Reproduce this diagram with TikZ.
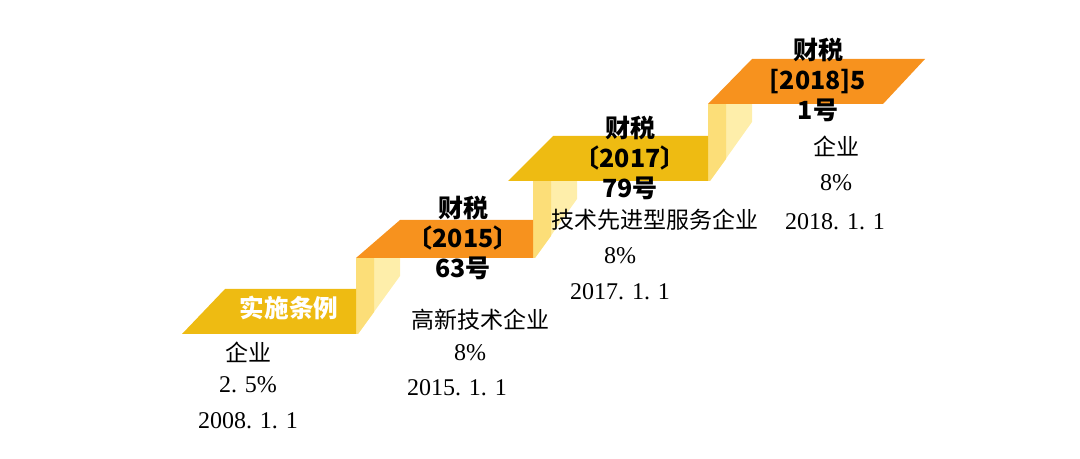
\documentclass[tikz,border=0pt]{standalone}
\usepackage{fontspec}
\setmainfont{Liberation Serif}
\newfontfamily\cjk{Noto Sans CJK SC}
\usetikzlibrary{positioning}

\definecolor{stepyellow}{RGB}{238,187,18}
\definecolor{steporange}{RGB}{247,146,30}
\definecolor{riserpale}{RGB}{252,222,120}
\definecolor{riserlight}{RGB}{254,238,170}

\begin{document}
\begin{tikzpicture}[x=0.5pt, y=-0.5pt,
  head/.style={font=\cjk\bfseries\fontsize{12.5}{15}\selectfont, align=center, inner sep=0pt},
  label/.style={font=\cjk\bfseries\fontsize{12.3}{14}\selectfont, text=white, inner sep=0pt},
  body/.style={font=\cjk\fontsize{11.5}{14}\selectfont, inner sep=0pt},
  num/.style={font=\fontsize{12}{14}\selectfont, inner sep=0pt}
]
\useasboundingbox (0,0) rectangle (1080,459);

% risers between the steps: x of left edge, top, bottom
\foreach \rx/\rt/\rb in {356/258/334, 533/181/258, 708/104/181}{
  \fill[riserlight] (\rx,\rt) -- (\rx+44,\rt) -- (\rx+44,\rt+18) -- (\rx+2,\rb) -- (\rx,\rb) -- cycle;
  \fill[riserpale] (\rx,\rt) -- (\rx+18,\rt) -- (\rx+18,\rb-22) -- (\rx+2,\rb) -- (\rx,\rb) -- cycle;
}

% the four steps
\fill[stepyellow] (182,334) -- (225,289) -- (356,289) -- (356,334) -- cycle;
\fill[steporange] (356,258) -- (400,220) -- (533,220) -- (533,258) -- cycle;
\fill[stepyellow] (508,181) -- (553,136) -- (708,136) -- (708,181) -- cycle;
\fill[steporange] (708,104) -- (752,59) -- (925,59) -- (883,104) -- cycle;

% step 1
\node[label] (rule) at (289,308) {实施条例};
\node[body] (kind1) at (248,352) {企业};
\node[num] (rate1) at (248,385) {2. 5\%};
\node[num] (date1) at (248,421) {2008. 1. 1};

% step 2
\node[head] (doc2) at (463,238) {财税\\〔2015〕\\63号};
\node[body] (kind2) at (480,320) {高新技术企业};
\node[num] (rate2) at (470,353) {8\%};
\node[num] (date2) at (457,388) {2015. 1. 1};

% step 3
\node[head] (doc3) at (630,158) {财税\\〔2017〕\\79号};
\node[body] (kind3) at (655,220) {技术先进型服务企业};
\node[num] (rate3) at (620,256) {8\%};
\node[num] (date3) at (620,292) {2017. 1. 1};

% step 4
\node[head] (doc4) at (818,80) {财税\\{[2018]5}\\1号};
\node[body] (kind4) at (836,146) {企业};
\node[num] (rate4) at (836,183) {8\%};
\node[num] (date4) at (835,222) {2018. 1. 1};
\end{tikzpicture}
\end{document}
